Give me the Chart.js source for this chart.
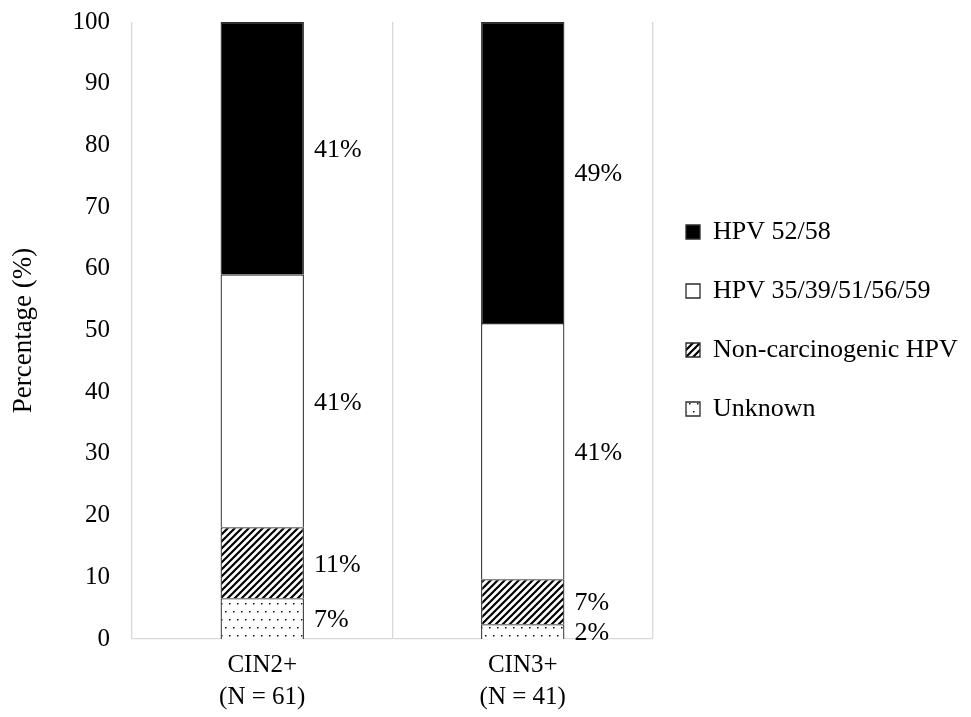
<!DOCTYPE html>
<html>
<head>
<meta charset="utf-8">
<script src="https://cdn.jsdelivr.net/npm/chart.js@4/dist/chart.umd.min.js"></script>
<style>
  html, body { margin: 0; padding: 0; background: #fff; }
  #wrap { width: 971px; height: 717px; }
</style>
</head>
<body>
<div id="wrap"><canvas id="myChart" width="971" height="717"></canvas></div>
<script>
// categories and stacked shares (percent), bottom segment first
var categories = [['CIN2+', '(N = 61)'], ['CIN3+', '(N = 41)']];
var unknown = [6.6, 2.4];
var nonCarcinogenic = [11.5, 7.3];
var hpvOther = [41.0, 41.5];
var hpv5258 = [40.9, 48.8];
// printed labels next to each segment
var unknownText = ['7%', '2%'];
var nonCarcinogenicText = ['11%', '7%'];
var hpvOtherText = ['41%', '41%'];
var hpv5258Text = ['41%', '49%'];
var yTicks = [0, 10, 20, 30, 40, 50, 60, 70, 80, 90, 100];

var serif = 'Liberation Serif';

function hatchPattern() {
  var c = document.createElement('canvas');
  c.width = 7; c.height = 7;
  var g = c.getContext('2d');
  g.fillStyle = '#fff';
  g.fillRect(0, 0, 7, 7);
  g.strokeStyle = '#000';
  g.lineWidth = 2.2;
  g.beginPath();
  g.moveTo(-1, 8); g.lineTo(8, -1);
  g.moveTo(-4.5, 4.5); g.lineTo(4.5, -4.5);
  g.moveTo(2.5, 11.5); g.lineTo(11.5, 2.5);
  g.stroke();
  return g.createPattern(c, 'repeat');
}

function dotPattern() {
  var c = document.createElement('canvas');
  c.width = 8; c.height = 16;
  var g = c.getContext('2d');
  g.fillStyle = '#fff';
  g.fillRect(0, 0, 8, 16);
  g.fillStyle = '#111';
  g.fillRect(1, 3, 1.5, 1.5);
  g.fillRect(5, 11, 1.5, 1.5);
  return g.createPattern(c, 'repeat');
}

var segLabels = {
  id: 'segLabels',
  afterDatasetsDraw: function(chart) {
    var ctx = chart.ctx;
    ctx.save();
    ctx.font = '26px "' + serif + '"';
    ctx.fillStyle = '#000';
    ctx.textAlign = 'left';
    ctx.textBaseline = 'middle';
    chart.data.datasets.forEach(function(ds, i) {
      var meta = chart.getDatasetMeta(i);
      meta.data.forEach(function(bar, j) {
        var props = bar.getProps(['x', 'y', 'base', 'width'], true);
        ctx.fillText(ds.texts[j], props.x + props.width / 2 + 10, (props.y + props.base) / 2 + 2);
      });
    });
    ctx.restore();
  }
};

var common = { borderColor: '#2b2b2b', borderWidth: 1.3, barPercentage: 0.32, categoryPercentage: 1 };

var chartdata = {
  labels: categories,
  datasets: [
    Object.assign({ label: 'Unknown', data: unknown, texts: unknownText, backgroundColor: dotPattern() }, common),
    Object.assign({ label: 'Non-carcinogenic HPV', data: nonCarcinogenic, texts: nonCarcinogenicText, backgroundColor: hatchPattern() }, common),
    Object.assign({ label: 'HPV 35/39/51/56/59', data: hpvOther, texts: hpvOtherText, backgroundColor: '#ffffff' }, common),
    Object.assign({ label: 'HPV 52/58', data: hpv5258, texts: hpv5258Text, backgroundColor: '#000000' }, common)
  ]
};

var options = {
  responsive: false,
  animation: false,
  layout: { padding: { top: 22, right: 6, bottom: -6, left: 8 } },
  plugins: {
    tooltip: { enabled: false },
    legend: {
      position: 'right',
      reverse: true,
      fullSize: false,
      align: 'start',
      maxWidth: 312,
      title: { display: true, text: ' ', font: { size: 10, lineHeight: 1 }, padding: { top: 154, bottom: 0 } },
      labels: {
        color: '#000',
        font: { family: serif, size: 26 },
        boxWidth: 14,
        boxHeight: 14,
        padding: 33
      }
    }
  },
  scales: {
    x: {
      stacked: true,
      offset: true,
      grid: { offset: true, color: '#d9d9d9', lineWidth: 1.3, drawTicks: false },
      border: { display: true, color: '#d9d9d9', width: 1.3 },
      ticks: { color: '#000', font: { family: serif, size: 25, lineHeight: 1.28 }, padding: 10, maxRotation: 0 }
    },
    y: {
      stacked: true,
      min: 0,
      max: 100,
      afterBuildTicks: function(axis) { axis.ticks = yTicks.map(function(v) { return { value: v }; }); },
      grid: { display: false, tickLength: 22 },
      border: { display: false },
      ticks: { color: '#000', font: { family: serif, size: 25, lineHeight: 1 }, padding: 0 },
      title: { display: true, text: 'Percentage (%)', color: '#000', font: { family: serif, size: 27 }, padding: 0 },
      afterFit: function(axis) { axis.width = 124; }
    }
  }
};

var graph = new Chart(document.getElementById('myChart'), {
  type: 'bar',
  data: chartdata,
  options: options,
  plugins: [segLabels]
});
</script>
</body>
</html>
